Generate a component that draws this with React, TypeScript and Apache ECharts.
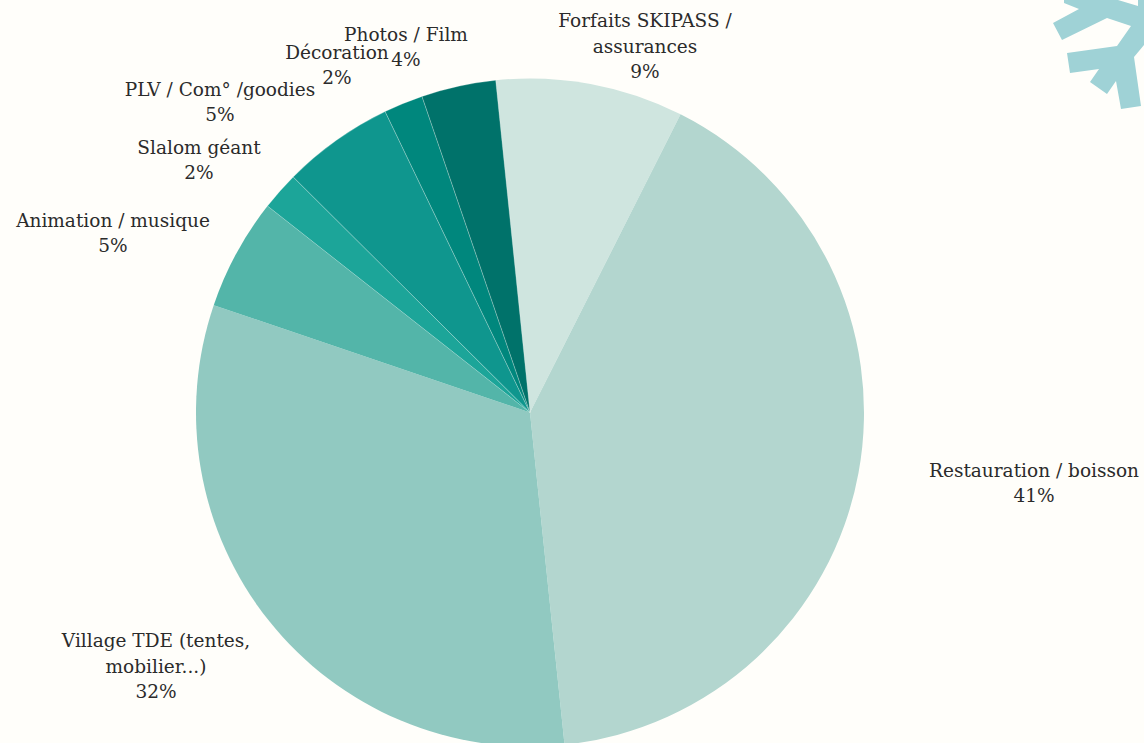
import React, { useEffect, useRef } from "react";
import * as echarts from "echarts";

const categories = [
  "Forfaits SKIPASS /\nassurances",
  "Restauration / boisson",
  "Village TDE (tentes,\nmobilier...)",
  "Animation / musique",
  "Slalom géant",
  "PLV / Com° /goodies",
  "Décoration",
  "Photos / Film",
];
const values = [9.08, 40.9, 31.85, 5.4, 1.85, 5.4, 1.9, 3.6];
const percentLabels = ["9%", "41%", "32%", "5%", "2%", "5%", "2%", "4%"];
const colors = ["#CFE5DF", "#B3D6CF", "#91C9C1", "#53B5A9", "#1CA599", "#0F968E", "#00877D", "#00726A"];
const separated = [false, false, false, false, true, true, true, true];
const labelCenters = [
  [645, 46], [1034, 483], [156, 666], [113, 233], [199, 160], [220, 102], [337, 65], [406, 47],
];
const snowflake = [
  [1053, 23], [1062, 40], [1107, 18], [1131, 26], [1117, 46], [1067, 53], [1070, 73], [1099, 69], [1090, 82],
  [1107, 94], [1116, 81], [1121, 109], [1141, 106], [1134, 57], [1144, 45], [1144, 0], [1138, 0], [1138, 6],
  [1118, 0], [1064, 0], [1064, 3], [1079, 9],
];

export default function App() {
  const ref = useRef<HTMLDivElement>(null);
  useEffect(() => {
    document.body.style.margin = "0";
    const chart = echarts.init(ref.current!, null, { renderer: "svg" });
    chart.setOption({
      animation: false,
      backgroundColor: "#FFFEFA",
      graphic: [
        { type: "polygon", shape: { points: snowflake }, style: { fill: "#9FD2D6" }, silent: true },
      ],
      series: [
        {
          type: "pie",
          center: [530, 412.5],
          radius: [0, 334],
          startAngle: 95.9,
          clockwise: true,
          avoidLabelOverlap: false,
          label: {
            show: true,
            position: "outside",
            fontFamily: "DejaVu Serif",
            fontSize: 18.5,
            lineHeight: 25.5,
            color: "#2B2B2B",
            align: "center",
            formatter: (p: any) => `${p.name}\n${percentLabels[p.dataIndex]}`,
          },
          labelLine: { show: false },
          labelLayout: (p: any) => ({
            x: labelCenters[p.dataIndex][0],
            y: labelCenters[p.dataIndex][1],
            align: "center",
            verticalAlign: "middle",
          }),
          data: categories.map((name, i) => ({
            name,
            value: values[i],
            itemStyle: {
              color: colors[i],
              borderColor: separated[i] ? "rgba(255,254,250,0.4)" : colors[i],
              borderWidth: separated[i] ? 0.6 : 0,
            },
          })),
        },
      ],
    });
    return () => chart.dispose();
  }, []);
  return <div ref={ref} style={{ width: 1144, height: 743 }} />;
}
